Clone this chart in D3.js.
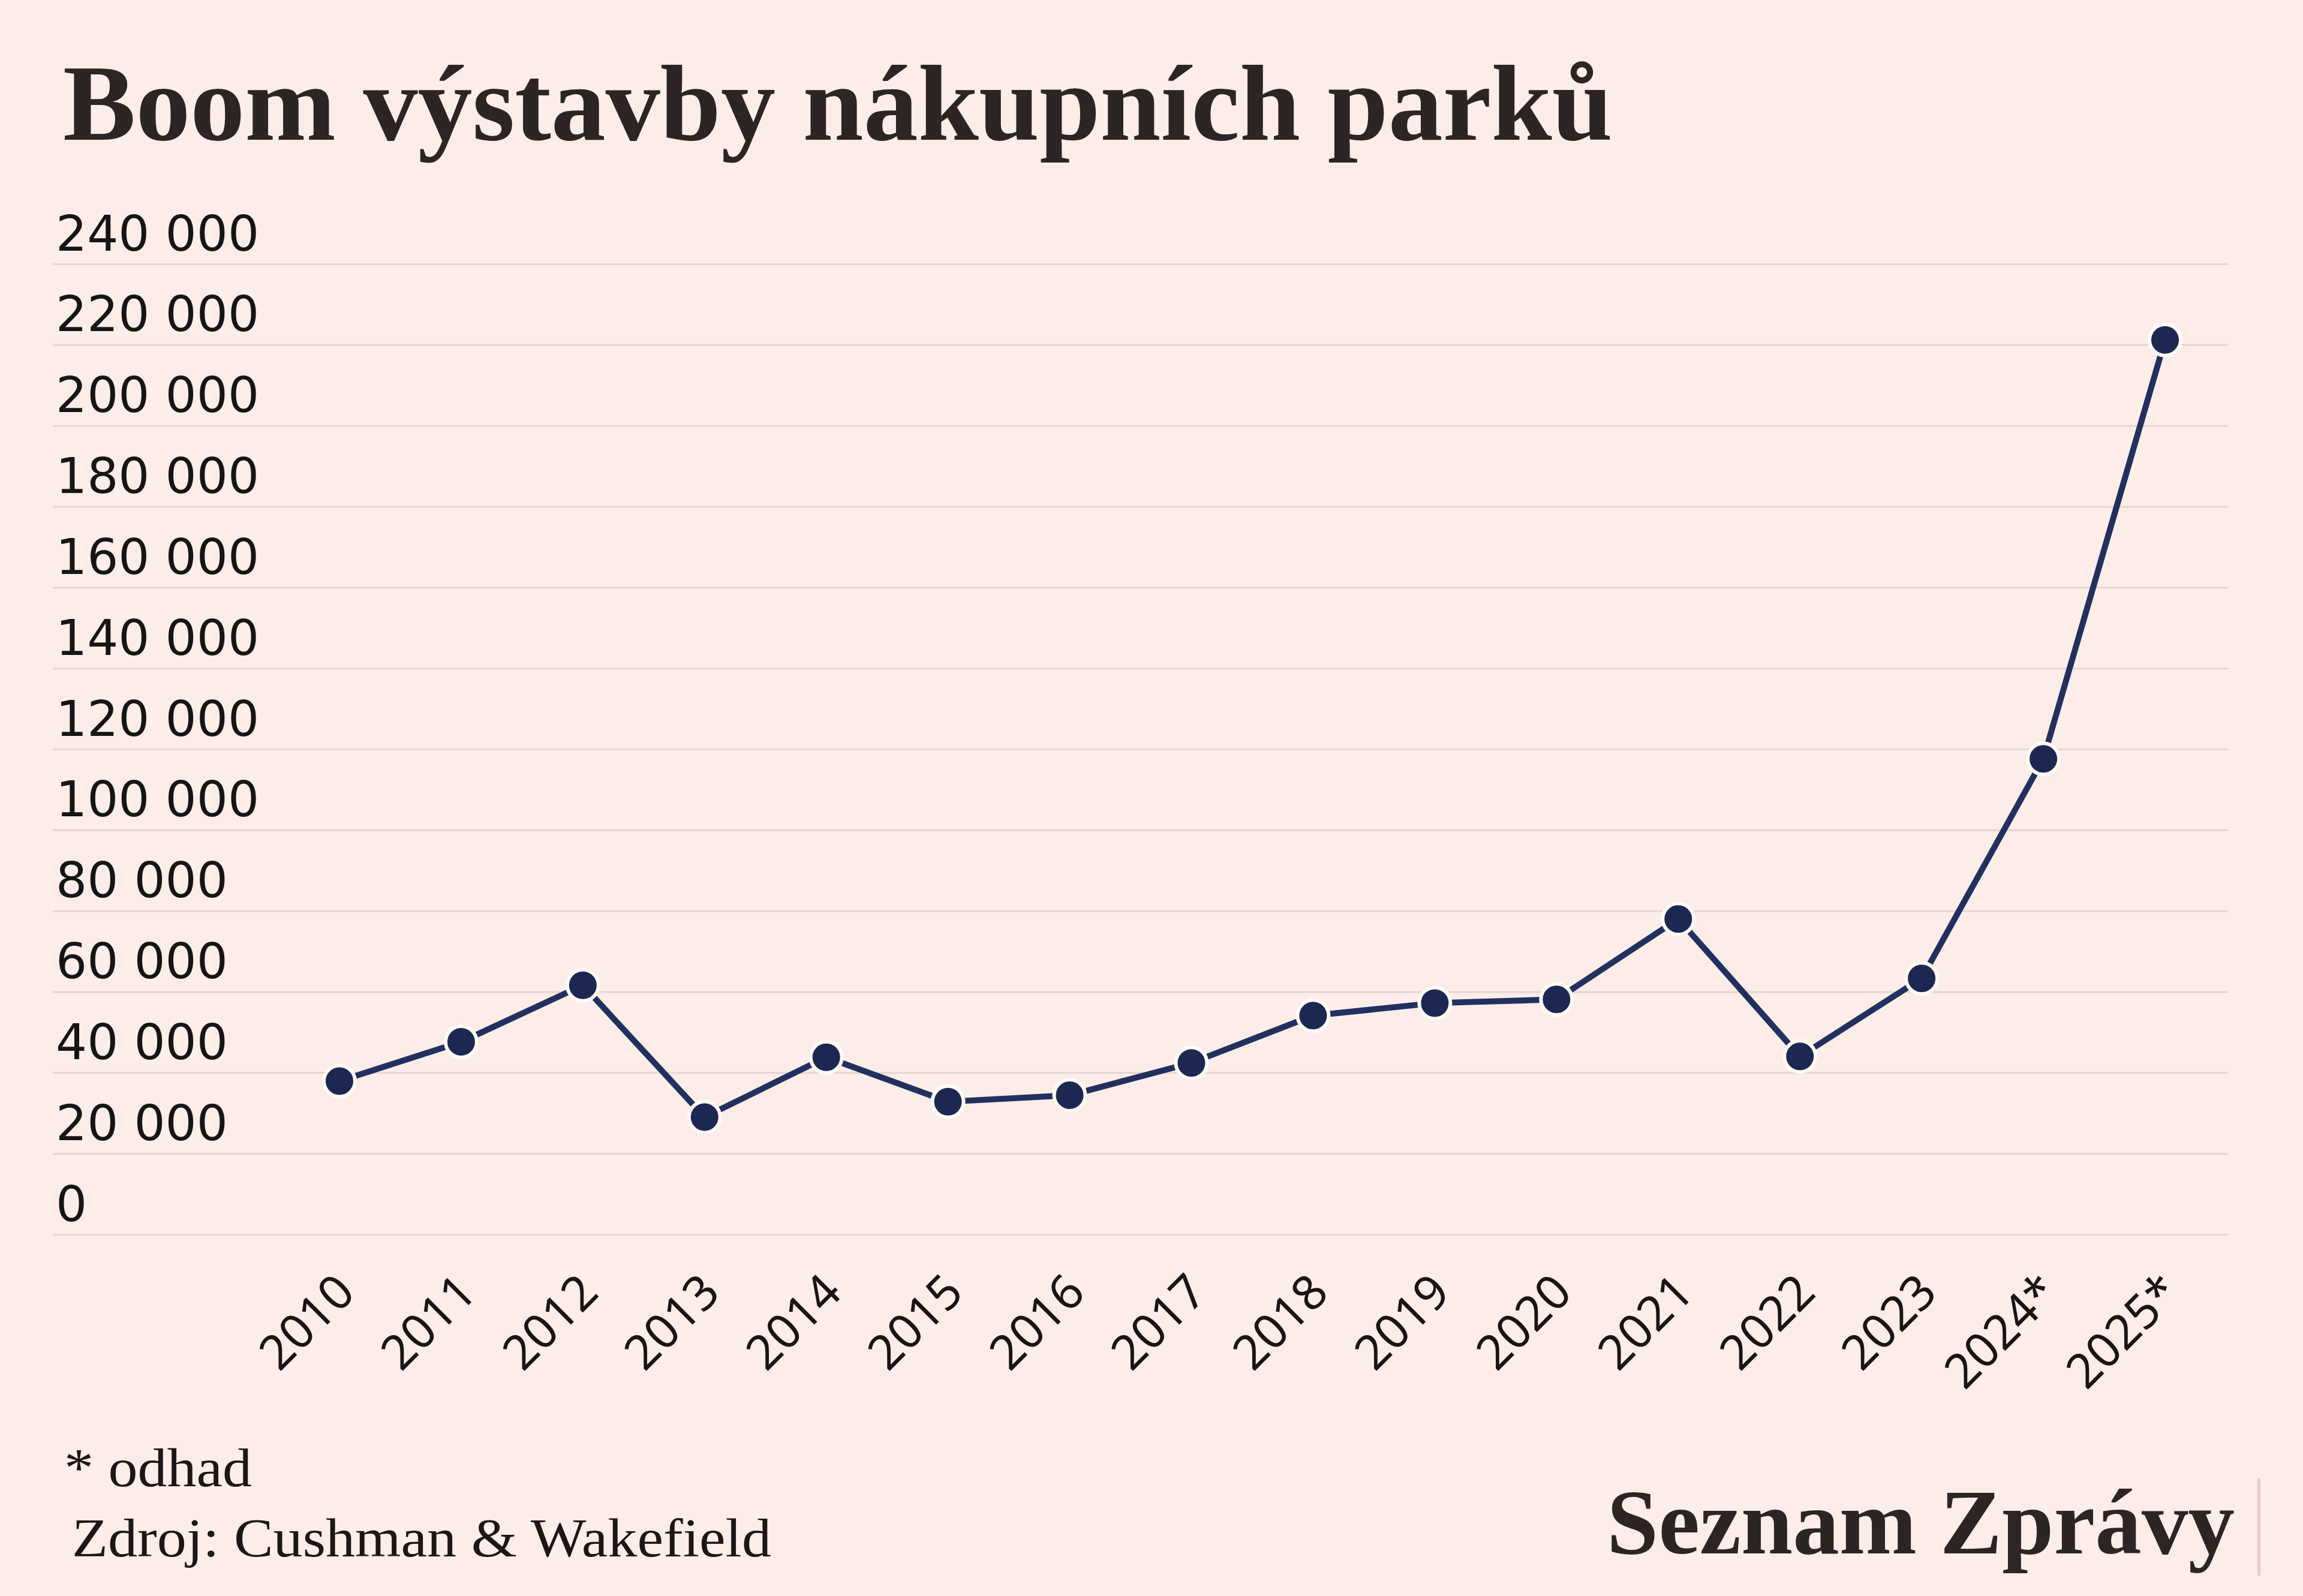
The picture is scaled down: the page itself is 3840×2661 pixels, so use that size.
<!DOCTYPE html>
<html>
<head>
<meta charset="utf-8">
<script src="https://cdn.jsdelivr.net/npm/d3@7"></script>
<style>
  html, body { margin: 0; padding: 0; background: #fcede9; }
  svg { display: block; }
</style>
</head>
<body>
<svg id="chart" width="3840" height="2661"></svg>
<script>
// ---- data ----
const years = ["2010","2011","2012","2013","2014","2015","2016","2017","2018","2019","2020","2021","2022","2023","2024*","2025*"];
const values = [37900, 47600, 61600, 29000, 43800, 32800, 34400, 42400, 54100, 57200, 58100, 78000, 44000, 63300, 117600, 221200];
const yTicks = [0, 20000, 40000, 60000, 80000, 100000, 120000, 140000, 160000, 180000, 200000, 220000, 240000];
const titleText = "Boom výstavby nákupních parků";
const noteText = "* odhad";
const sourceText = "Zdroj: Cushman & Wakefield";
const brandText = "Seznam Zprávy";

// ---- setup ----
const W = 3840, H = 2661;
const svg = d3.select("#chart");
svg.append("rect").attr("width", W).attr("height", H).attr("fill", "#fcede9");

const plotLeft = 88, plotRight = 3715;
const x = d3.scalePoint().domain(years).range([566, 3610]);
const y = d3.scaleLinear().domain([0, 240000]).range([2058, 440]);

const loc = d3.formatLocale({decimal: ",", thousands: " ", grouping: [3], currency: ["", ""]});
const fmt = loc.format(",");

// title
svg.append("text")
  .attr("x", 105).attr("y", 233)
  .attr("font-family", "'Liberation Serif', 'DejaVu Serif', serif")
  .attr("font-weight", "bold")
  .attr("font-size", 181)
  .attr("fill", "#2d2424")
  .attr("textLength", 2584)
  .attr("lengthAdjust", "spacingAndGlyphs")
  .text(titleText);

// gridlines
const grid = svg.append("g")
  .attr("transform", `translate(${plotLeft},0)`)
  .call(d3.axisLeft(y).tickValues(yTicks).tickSize(-(plotRight - plotLeft)).tickFormat(""));
grid.select(".domain").remove();
grid.selectAll("line").attr("stroke", "#e6d6d3").attr("stroke-width", 3);

// y labels
const yAxis = svg.append("g")
  .attr("transform", "translate(93,0)")
  .call(d3.axisRight(y).tickValues(yTicks).tickSize(0).tickPadding(0).tickFormat(fmt));
yAxis.select(".domain").remove();
yAxis.selectAll("text")
  .attr("x", 0).attr("y", -23).attr("dy", null)
  .attr("text-anchor", "start")
  .attr("font-family", "'DejaVu Sans', Verdana, sans-serif")
  .attr("font-size", 82)
  .attr("fill", "#151515");

// x labels
const xAxis = svg.append("g")
  .attr("transform", "translate(0,2159)")
  .call(d3.axisBottom(x).tickSize(0).tickPadding(0));
xAxis.select(".domain").remove();
xAxis.selectAll("text")
  .attr("x", 0).attr("y", 0).attr("dy", null)
  .attr("text-anchor", "end")
  .attr("transform", "translate(29,0) rotate(-45)")
  .attr("font-family", "'Noto Sans', 'Open Sans', sans-serif")
  .attr("font-size", 80)
  .attr("fill", "#1a1414");

// line
const data = years.map((yr, i) => ({yr, v: values[i]}));
svg.append("path")
  .datum(data)
  .attr("fill", "none")
  .attr("stroke", "#22305f")
  .attr("stroke-width", 10)
  .attr("stroke-linejoin", "round")
  .attr("d", d3.line().x(d => x(d.yr)).y(d => y(d.v)));

// points
svg.append("g").selectAll("circle")
  .data(data)
  .join("circle")
  .attr("cx", d => x(d.yr))
  .attr("cy", d => y(d.v))
  .attr("r", 26)
  .attr("fill", "#1c2852")
  .attr("stroke", "#fffaf6")
  .attr("stroke-width", 6);

// footer
svg.append("text")
  .attr("x", 107).attr("y", 2478)
  .attr("font-family", "'Liberation Serif', 'DejaVu Serif', serif")
  .attr("font-size", 90)
  .attr("fill", "#1d1616")
  .attr("textLength", 313)
  .attr("lengthAdjust", "spacingAndGlyphs")
  .text(noteText);

svg.append("text")
  .attr("x", 120).attr("y", 2595)
  .attr("font-family", "'Liberation Serif', 'DejaVu Serif', serif")
  .attr("font-size", 90)
  .attr("fill", "#1d1616")
  .attr("textLength", 1166)
  .attr("lengthAdjust", "spacingAndGlyphs")
  .text(sourceText);

svg.append("text")
  .attr("x", 2679).attr("y", 2590)
  .attr("font-family", "'Liberation Serif', 'DejaVu Serif', serif")
  .attr("font-weight", "bold")
  .attr("font-size", 154)
  .attr("fill", "#2d2424")
  .attr("textLength", 1047)
  .attr("lengthAdjust", "spacingAndGlyphs")
  .text(brandText);

svg.append("rect")
  .attr("x", 3764).attr("y", 2465)
  .attr("width", 5).attr("height", 162)
  .attr("fill", "#f2c4c9");
</script>
</body>
</html>
